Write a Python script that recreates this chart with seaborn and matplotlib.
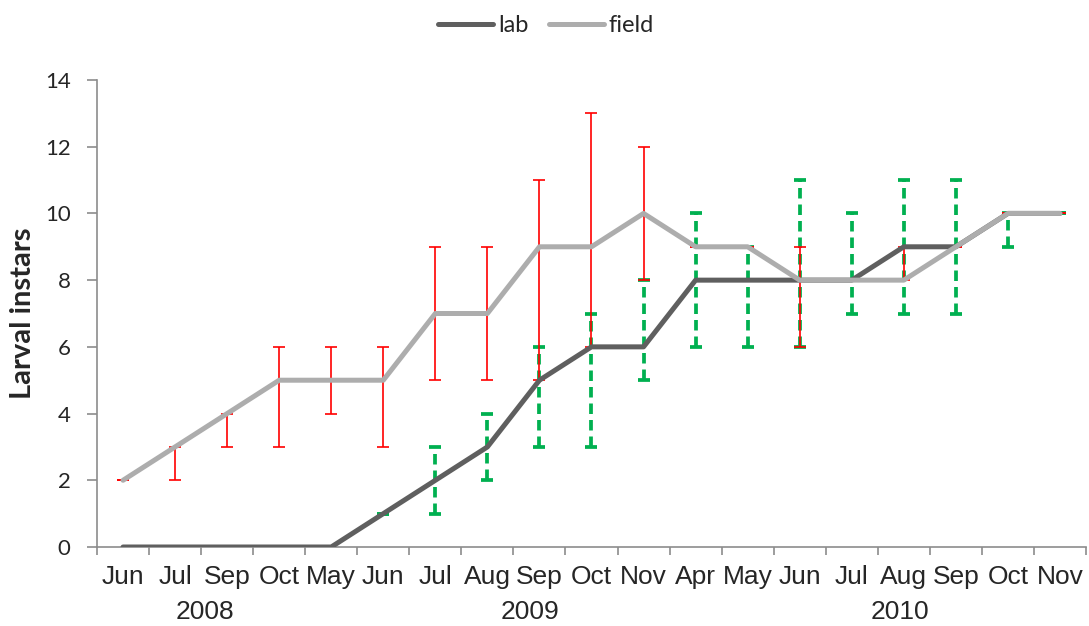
import numpy as np
import pandas as pd
import matplotlib
matplotlib.use("Agg")
import matplotlib.pyplot as plt
import seaborn as sns
from matplotlib.ticker import FixedLocator
from matplotlib.lines import Line2D

months = ["Jun", "Jul", "Sep", "Oct", "May", "Jun", "Jul", "Aug", "Sep", "Oct",
          "Nov", "Apr", "May", "Jun", "Jul", "Aug", "Sep", "Oct", "Nov"]
years = ["2008", "2009", "2010"]
year_pos = [1.58, 7.82, 14.93]

lab = [0, 0, 0, 0, 0, 1, 2, 3, 5, 6, 6, 8, 8, 8, 8, 9, 9, 10, 10]
lab_low = [None, None, None, None, None, 1, 1, 2, 3, 3, 5, 6, 6, 6, 7, 7, 7, 9, 10]
lab_high = [None, None, None, None, None, 1, 3, 4, 6, 7, 8, 10, 9, 11, 10, 11, 11, 10, 10]

field = [2, 3, 4, 5, 5, 5, 7, 7, 9, 9, 10, 9, 9, 8, 8, 8, 9, 10, 10]
field_low = [2, 2, 3, 3, 4, 3, 5, 5, 5, 6, 8, 9, 9, 6, 8, 8, 9, 10, 10]
field_high = [2, 3, 4, 6, 6, 6, 9, 9, 11, 13, 12, 9, 9, 9, 8, 9, 9, 10, 10]

series_names = ["lab", "field"]
colors = {"lab": "#5F5F5F", "field": "#ADADAD"}

sns.set_style("white")
plt.rcParams["font.family"] = ["Lato", "DejaVu Sans"]

fig = plt.figure(figsize=(10.89, 6.26), dpi=100)
ax = fig.add_axes([97 / 1089, 1 - 547 / 626, (1086 - 97) / 1089, (547 - 80) / 626])

x = np.arange(len(months))
df = pd.DataFrame({
    "idx": np.concatenate([x, x]),
    "value": lab + field,
    "series": ["lab"] * len(x) + ["field"] * len(x),
})

def to_arr(v):
    return np.array([np.nan if a is None else a for a in v], dtype=float)

# lab error bars (green dashed)
lv, ll, lh = np.array(lab, float), to_arr(lab_low), to_arr(lab_high)
eb = ax.errorbar(x, lv, yerr=[lv - ll, lh - lv], fmt="none", ecolor="#00B050",
                 elinewidth=2.7, capsize=4, capthick=2.7, zorder=2)
for lc in eb[2]:
    lc.set_linestyle((0, (2.8, 1.6)))

# field error bars (red)
fv, fl, fh = np.array(field, float), np.array(field_low, float), np.array(field_high, float)
ax.errorbar(x, fv, yerr=[fv - fl, fh - fv], fmt="none", ecolor="#FF0000",
            elinewidth=1.2, capsize=4.5, capthick=1.2, zorder=2.5)

sns.lineplot(data=df, x="idx", y="value", hue="series", hue_order=series_names,
             palette=colors, linewidth=3.6, estimator=None, legend=False, ax=ax,
             zorder=3)
for ln in ax.lines:
    ln.set_solid_capstyle("round")
    ln.set_solid_joinstyle("round")

ax.set_xlim(-0.5, len(months) - 0.5)
ax.set_ylim(0, 14)
ax.set_yticks(np.arange(0, 15, 2))
ax.set_xticks(x)
ax.set_xticklabels(months, family=["Liberation Sans"], fontsize=19)
ax.xaxis.set_minor_locator(FixedLocator(np.arange(-0.5, len(months), 1.0)))
ax.tick_params(axis="x", which="major", length=0, pad=13)
ax.tick_params(axis="x", which="minor", length=6, width=1.2, color="#8C8C8C",
               direction="out", bottom=True)
ax.tick_params(axis="y", which="major", length=7, width=1.2, color="#8C8C8C",
               direction="out", left=True, labelsize=16, pad=12)
ax.set_xlabel("")
ax.set_ylabel("")
for s in ["top", "right"]:
    ax.spines[s].set_visible(False)
for s in ["left", "bottom"]:
    ax.spines[s].set_color("#8C8C8C")
    ax.spines[s].set_linewidth(1.2)
ax.grid(False)

fig.text(23 / 1089, 1 - 313 / 626, "Larval instars", rotation=90, ha="center",
         va="center", fontsize=21, fontweight="bold")

for yr, pos in zip(years, year_pos):
    ax.text(pos, -(612 - 547) / (547 - 80), yr, transform=ax.get_xaxis_transform(),
            ha="center", va="center", family=["Liberation Sans"], fontsize=19)

handles = [Line2D([0], [0], color=colors[n], lw=3.6, solid_capstyle="round")
           for n in series_names]
fig.legend(handles, series_names, loc="center", bbox_to_anchor=(546 / 1089, 1 - 26 / 626),
           ncol=2, frameon=False, fontsize=17, handlelength=2.35, handletextpad=0.2,
           columnspacing=0.85, borderaxespad=0)

fig.savefig("out.png", dpi=100)
